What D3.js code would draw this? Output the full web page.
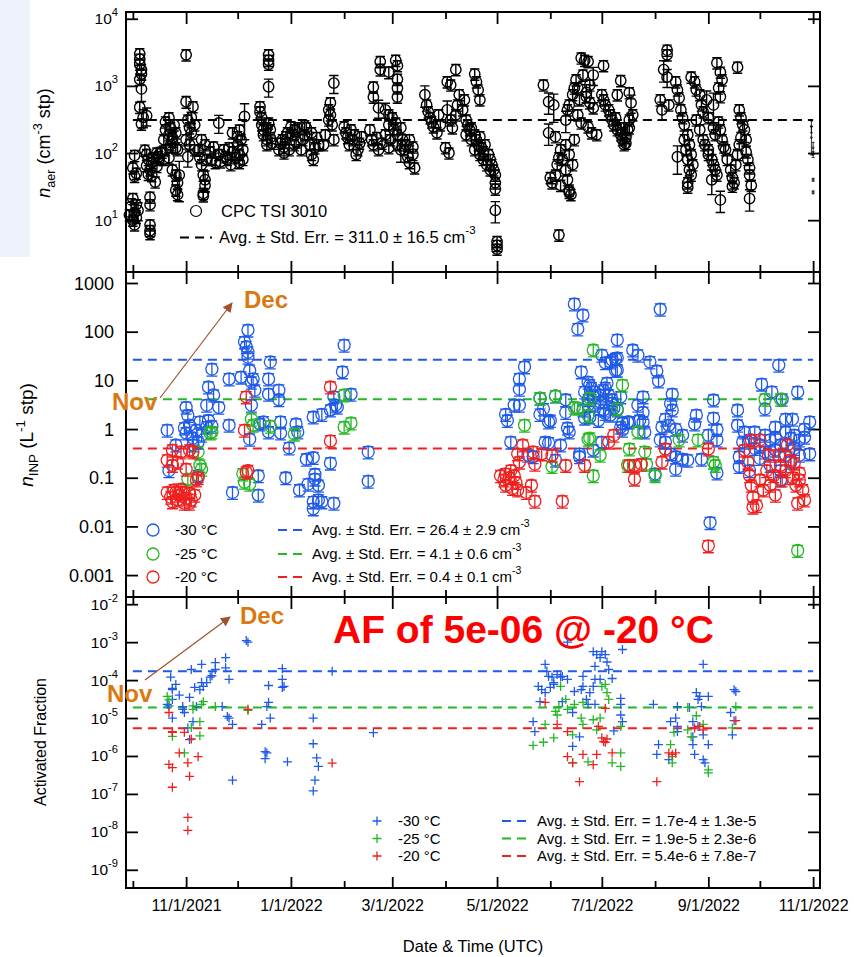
<!DOCTYPE html>
<html>
<head>
<meta charset="utf-8">
<script src="https://cdn.jsdelivr.net/npm/d3@7"></script>
<style>
  body { margin: 0; background: #fff; }
  svg { display: block; }
  text { font-family: "Liberation Sans", Arial, Helvetica, sans-serif; }
</style>
</head>
<body>
<svg id="chart" width="854" height="957"></svg>
<script>
// ---------- data ----------
const majorTickDates = ["2021-11-01", "2022-01-01", "2022-03-01", "2022-05-01", "2022-07-01", "2022-09-01", "2022-11-01"];
const minorTickDates = ["2021-10-01", "2021-12-01", "2022-02-01", "2022-04-01", "2022-06-01", "2022-08-01", "2022-10-01"];
const aerTicks = [10, 100, 1000, 10000];
const inpTicks = [0.001, 0.01, 0.1, 1, 10, 100, 1000];
const inpTickLabels = ["0.001", "0.01", "0.1", "1", "10", "100", "1000"];
const afTicks = [1e-9, 1e-8, 1e-7, 1e-6, 1e-5, 1e-4, 1e-3, 1e-2];
const temperatures = ["-30 °C", "-25 °C", "-20 °C"];

// CPC TSI 3010 aerosol number concentration: [date, cm^-3, relative std. err. (when larger than usual)]
const cpcRelErr = 0.19;
const cpcPoints = [
  ["2021-09-29", 12], ["2021-09-30", 16, 0.3], ["2021-10-01", 10], ["2021-10-01", 21], ["2021-10-02", 13, 0.3],
  ["2021-10-02", 8.5], ["2021-10-03", 17], ["2021-10-03", 11], ["2021-10-04", 14, 0.3], ["2021-10-02", 45],
  ["2021-10-01", 60], ["2021-10-03", 50], ["2021-10-02", 92],
  ["2021-10-05", 3000], ["2021-10-05", 2500], ["2021-10-05", 2100], ["2021-10-06", 1750], ["2021-10-06", 1500],
  ["2021-10-05", 1250], ["2021-10-06", 900, 0.35], ["2021-10-05", 480], ["2021-10-07", 340, 0.3], ["2021-10-06", 270],
  ["2021-10-09", 360, 0.3],
  ["2021-10-11", 22], ["2021-10-11", 17], ["2021-10-11", 8.5], ["2021-10-11", 7], ["2021-10-11", 6.3],
  ["2021-10-08", 110], ["2021-10-09", 95], ["2021-10-10", 80], ["2021-10-12", 72], ["2021-10-09", 65],
  ["2021-10-11", 56], ["2021-10-13", 85], ["2021-10-15", 100], ["2021-10-16", 80], ["2021-10-17", 102],
  ["2021-10-12", 46], ["2021-10-14", 37], ["2021-10-15", 63], ["2021-10-16", 88], ["2021-10-10", 48],
  ["2021-10-18", 103], ["2021-10-19", 158], ["2021-10-20", 222], ["2021-10-20", 290], ["2021-10-22", 335],
  ["2021-10-22", 187], ["2021-10-23", 237], ["2021-10-23", 133], ["2021-10-24", 170], ["2021-10-25", 263],
  ["2021-10-26", 120], ["2021-10-26", 200], ["2021-10-27", 112], ["2021-10-19", 80], ["2021-10-22", 85],
  ["2021-10-20", 112], ["2021-10-24", 150],
  ["2021-10-24", 56], ["2021-10-26", 47], ["2021-10-27", 36], ["2021-10-26", 28], ["2021-10-27", 24],
  ["2021-10-28", 47, 0.6],
  ["2021-11-01", 2900], ["2021-11-01", 580, 0.2], ["2021-11-05", 490], ["2021-11-02", 310], ["2021-11-03", 237],
  ["2021-11-04", 200], ["2021-11-01", 158], ["2021-11-03", 133], ["2021-11-06", 112], ["2021-11-04", 340],
  ["2021-11-06", 263], ["2021-11-02", 88, 0.3],
  ["2021-11-08", 110], ["2021-11-09", 85], ["2021-11-10", 67], ["2021-11-11", 47], ["2021-11-12", 33],
  ["2021-11-11", 25], ["2021-11-13", 80], ["2021-11-12", 133], ["2021-11-10", 158], ["2021-11-11", 23],
  ["2021-11-12", 40, 0.35],
  ["2021-11-15", 104], ["2021-11-16", 80], ["2021-11-17", 123], ["2021-11-18", 72], ["2021-11-20", 95],
  ["2021-11-20", 280, 0.3], ["2021-11-21", 74], ["2021-11-23", 112], ["2021-11-24", 88], ["2021-11-25", 80],
  ["2021-11-26", 120], ["2021-11-27", 67], ["2021-11-28", 200], ["2021-11-28", 104], ["2021-11-30", 85],
  ["2021-12-01", 133], ["2021-12-02", 95], ["2021-12-02", 72], ["2021-12-04", 112], ["2021-12-04", 80],
  ["2021-12-05", 350, 0.55], ["2021-12-03", 158], ["2021-12-01", 175], ["2021-12-02", 220],
  ["2021-12-14", 490], ["2021-12-14", 410], ["2021-12-15", 335], ["2021-12-15", 263], ["2021-12-16", 222],
  ["2021-12-16", 187], ["2021-12-18", 237], ["2021-12-18", 158], ["2021-12-18", 133], ["2021-12-19", 280],
  ["2021-12-20", 222], ["2021-12-20", 170], ["2021-12-21", 140], ["2021-12-19", 2900], ["2021-12-19", 2400],
  ["2021-12-19", 2100], ["2021-12-19", 970, 0.3],
  ["2021-12-25", 112], ["2021-12-26", 140], ["2021-12-27", 158], ["2021-12-28", 123], ["2021-12-29", 175],
  ["2021-12-30", 200], ["2022-01-01", 245], ["2022-01-02", 187], ["2022-01-03", 222], ["2022-01-04", 147],
  ["2022-01-05", 237], ["2022-01-03", 133], ["2021-12-28", 100], ["2021-12-31", 112],
  ["2022-01-07", 112], ["2022-01-08", 158], ["2022-01-09", 187], ["2022-01-10", 237], ["2022-01-12", 133],
  ["2022-01-13", 95], ["2022-01-14", 80], ["2022-01-15", 120], ["2022-01-16", 170], ["2022-01-17", 133],
  ["2022-01-09", 255], ["2022-01-13", 200],
  ["2022-01-20", 133], ["2022-01-21", 187], ["2022-01-23", 310], ["2022-01-23", 440], ["2022-01-24", 560],
  ["2022-01-24", 370], ["2022-01-25", 263], ["2022-01-26", 158], ["2022-01-26", 1100, 0.3],
  ["2022-02-01", 245], ["2022-02-02", 200], ["2022-02-03", 170], ["2022-02-04", 133], ["2022-02-05", 222],
  ["2022-02-06", 158], ["2022-02-07", 187], ["2022-02-09", 112], ["2022-02-10", 140], ["2022-02-11", 175],
  ["2022-02-08", 95],
  ["2022-02-16", 222], ["2022-02-17", 158], ["2022-02-18", 133], ["2022-02-20", 170], ["2022-02-21", 112],
  ["2022-02-23", 140], ["2022-02-25", 187], ["2022-02-27", 120], ["2022-02-28", 158],
  ["2022-02-18", 960], ["2022-02-18", 680],
  ["2022-02-22", 2300], ["2022-02-22", 1750, 0.2], ["2022-02-27", 1600, 0.2], ["2022-03-03", 2400],
  ["2022-03-04", 2000], ["2022-03-04", 1250], ["2022-03-04", 930], ["2022-03-04", 680],
  ["2022-02-21", 470, 0.3], ["2022-02-25", 440, 0.25], ["2022-02-27", 370],
  ["2022-02-27", 263], ["2022-03-01", 335], ["2022-03-02", 222], ["2022-03-03", 280], ["2022-03-04", 187],
  ["2022-03-06", 237], ["2022-03-07", 158], ["2022-03-08", 112], ["2022-03-09", 133], ["2022-03-10", 88],
  ["2022-03-11", 72], ["2022-03-13", 95], ["2022-03-14", 60], ["2022-03-11", 158], ["2022-03-13", 123],
  ["2022-03-06", 112, 0.35], ["2022-03-04", 133],
  ["2022-03-20", 740, 0.35], ["2022-03-21", 520], ["2022-03-22", 410], ["2022-03-23", 335], ["2022-03-24", 290],
  ["2022-03-25", 245], ["2022-03-27", 200], ["2022-03-28", 370], ["2022-03-29", 263],
  ["2022-04-02", 1150], ["2022-04-04", 1030], ["2022-04-07", 1750], ["2022-04-02", 440, 0.35], ["2022-04-04", 310],
  ["2022-04-05", 237], ["2022-04-07", 370], ["2022-04-08", 520], ["2022-04-09", 740], ["2022-04-11", 440],
  ["2022-04-12", 620], ["2022-04-03", 100], ["2022-04-01", 120],
  ["2022-04-13", 310], ["2022-04-14", 263], ["2022-04-15", 222], ["2022-04-16", 237], ["2022-04-18", 187],
  ["2022-04-19", 158], ["2022-04-20", 133], ["2022-04-21", 175], ["2022-04-22", 120], ["2022-04-23", 104],
  ["2022-04-24", 133], ["2022-04-26", 95], ["2022-04-27", 80], ["2022-04-28", 67], ["2022-04-29", 56],
  ["2022-04-30", 47], ["2022-04-30", 36],
  ["2022-04-13", 187], ["2022-04-16", 158], ["2022-04-18", 112], ["2022-04-21", 95], ["2022-04-23", 80],
  ["2022-04-25", 67], ["2022-04-27", 56],
  ["2022-04-18", 1500], ["2022-04-19", 1150], ["2022-04-20", 870], ["2022-04-21", 620],
  ["2022-04-30", 29], ["2022-04-30", 14, 0.35], ["2022-05-01", 4.8], ["2022-05-01", 4.2], ["2022-05-01", 3.7],
  ["2022-05-28", 1030], ["2022-05-31", 580, 0.35], ["2022-06-03", 520, 0.45], ["2022-05-31", 200, 0.35],
  ["2022-06-04", 175], ["2022-06-06", 6],
  ["2022-06-01", 43], ["2022-06-02", 36], ["2022-06-04", 47], ["2022-06-05", 67], ["2022-06-06", 85],
  ["2022-06-07", 112], ["2022-06-08", 80], ["2022-06-10", 56], ["2022-06-11", 40], ["2022-06-12", 28],
  ["2022-06-13", 24], ["2022-06-10", 133], ["2022-06-12", 95], ["2022-06-14", 67], ["2022-06-15", 158],
  ["2022-06-07", 33], ["2022-06-12", 26],
  ["2022-06-10", 310, 0.35], ["2022-06-11", 440], ["2022-06-12", 520], ["2022-06-14", 740], ["2022-06-15", 930],
  ["2022-06-16", 1230], ["2022-06-17", 930], ["2022-06-18", 620], ["2022-06-19", 2600], ["2022-06-21", 2400],
  ["2022-06-23", 2300], ["2022-06-20", 1450], ["2022-06-22", 800, 0.3], ["2022-06-17", 370], ["2022-06-19", 280],
  ["2022-06-24", 1030], ["2022-06-26", 1450, 0.3], ["2022-07-02", 2000], ["2022-06-22", 690], ["2022-06-24", 560],
  ["2022-06-26", 470], ["2022-06-23", 245], ["2022-06-25", 200], ["2022-06-28", 187],
  ["2022-07-01", 740], ["2022-07-02", 620], ["2022-07-03", 520], ["2022-07-05", 440], ["2022-07-06", 370],
  ["2022-07-07", 310], ["2022-07-08", 263], ["2022-07-09", 335], ["2022-07-10", 222], ["2022-07-12", 187],
  ["2022-07-13", 158], ["2022-07-14", 133], ["2022-07-15", 170], ["2022-07-16", 222], ["2022-07-17", 310],
  ["2022-07-19", 370], ["2022-07-10", 735], ["2022-07-12", 1200], ["2022-07-17", 790], ["2022-07-18", 560, 0.3],
  ["2022-07-12", 237], ["2022-07-13", 200], ["2022-07-15", 140], ["2022-07-17", 237],
  ["2022-08-08", 3400], ["2022-08-08", 2900], ["2022-08-06", 1750, 0.35], ["2022-08-08", 1350, 0.3],
  ["2022-08-04", 620], ["2022-08-05", 440, 0.3], ["2022-08-09", 520],
  ["2022-08-13", 1150], ["2022-08-14", 870], ["2022-08-15", 660], ["2022-08-16", 440], ["2022-08-17", 335],
  ["2022-08-18", 263], ["2022-08-20", 187], ["2022-08-21", 133], ["2022-08-22", 95], ["2022-08-23", 67],
  ["2022-08-18", 158], ["2022-08-19", 112], ["2022-08-20", 80], ["2022-08-21", 56], ["2022-08-22", 47],
  ["2022-08-14", 88, 0.45], ["2022-08-20", 36], ["2022-08-20", 31],
  ["2022-08-22", 1350], ["2022-08-24", 1150], ["2022-08-25", 870], ["2022-08-27", 740], ["2022-08-28", 520],
  ["2022-08-29", 410], ["2022-08-31", 620, 0.35], ["2022-09-01", 335], ["2022-08-25", 310], ["2022-08-27", 222],
  ["2022-08-29", 158], ["2022-08-30", 133], ["2022-09-01", 112], ["2022-09-01", 95], ["2022-09-03", 80],
  ["2022-09-04", 67], ["2022-09-05", 56], ["2022-09-06", 47], ["2022-09-03", 40, 0.4], ["2022-09-04", 237],
  ["2022-09-05", 187], ["2022-09-07", 290], ["2022-09-08", 222], ["2022-09-09", 158], ["2022-09-10", 123],
  ["2022-09-06", 2200], ["2022-09-08", 1600], ["2022-09-09", 1230], ["2022-09-07", 930], ["2022-09-08", 690],
  ["2022-09-04", 520, 0.5], ["2022-09-08", 20, 0.35],
  ["2022-09-11", 112], ["2022-09-12", 80], ["2022-09-14", 56], ["2022-09-15", 43], ["2022-09-16", 36],
  ["2022-09-17", 67], ["2022-09-18", 95], ["2022-09-19", 133], ["2022-09-20", 170], ["2022-09-15", 32],
  ["2022-09-18", 1900],
  ["2022-09-19", 440], ["2022-09-20", 335], ["2022-09-21", 263], ["2022-09-22", 222, 0.35], ["2022-09-23", 158],
  ["2022-09-23", 104], ["2022-09-24", 80], ["2022-09-25", 60], ["2022-09-25", 47], ["2022-09-26", 33],
  ["2022-09-25", 21, 0.35]
];
// last few CPC samples at the end of the record: [date, cm^-3, relative std. err.]
const cpcTail = [["2022-10-31", 250, 0.2], ["2022-10-31", 170, 0.45], ["2022-11-01", 120, 0.2], ["2022-11-01", 95, 0.1], ["2022-11-01", 40, 0.05], ["2022-11-01", 26, 0.05]];
const aerAvg = { value: 311.0, err: 16.5 };

// INP number concentration (L^-1 stp): [date, value]
const inpRelErr = 0.28;
const inp30 = [
  ["2021-10-21",0.95],["2021-10-22",0.14],["2021-10-26",0.47],["2021-11-01",2.8],["2021-11-02",1.9],["2021-10-31",1.05],
  ["2021-11-01",0.83],["2021-11-03",1.2],["2021-11-05",0.65],["2021-11-07",0.95],["2021-11-09",1.4],["2021-11-10",0.75],
  ["2021-11-08",0.54],["2021-11-05",0.47],["2021-11-08",0.11],["2021-11-13",3.1],["2021-11-14",7.3],["2021-11-16",17],
  ["2021-11-17",5],["2021-11-20",2.8],["2021-11-14",1.5],["2021-11-16",1.15],["2021-11-13",1.1],["2021-11-26",1.2],
  ["2021-11-26",10.7],["2021-11-28",0.05],["2021-12-03",11.7],["2021-12-07",108],["2021-12-05",62],["2021-12-06",49],
  ["2021-12-07",38],["2021-12-07",30],["2021-12-08",16],["2021-12-10",10.7],["2021-12-09",9.2],["2021-12-11",6.3],
  ["2021-12-09",3.1],["2021-12-08",0.62],["2021-12-13",0.11],["2021-12-13",0.044],["2021-12-14",1.27],["2021-12-16",1.4],
  ["2021-12-20",24],["2021-12-19",10.7],["2021-12-19",5.2],["2021-12-25",6.3],["2021-12-25",4],["2021-12-19",0.87],
  ["2021-12-26",1.4],["2021-12-26",0.83],["2021-12-31",0.41],["2021-12-29",0.1],["2022-01-04",1.27],["2022-01-05",0.87],
  ["2022-01-06",0.056],["2022-01-10",0.24],["2022-01-14",0.26],["2022-01-11",0.074],["2022-01-14",1.77],["2022-01-19",2.0],
  ["2022-01-24",2.46],["2022-01-28",2.8],["2022-01-15",0.118],["2022-01-15",0.094],["2022-01-17",0.07],["2022-01-14",0.032],
  ["2022-01-17",0.035],["2022-01-14",0.023],["2022-01-19",0.032],["2022-01-24",0.2],["2022-01-26",0.03],["2022-02-01",53],
  ["2022-01-31",15],["2022-01-26",4.6],["2022-01-27",3.1],["2022-02-05",5.2],["2022-02-15",0.34],["2022-02-15",0.085],
  ["2022-05-17",19],["2022-05-14",10.7],["2022-05-14",6.6],["2022-05-11",3.1],["2022-05-14",3.1],["2022-05-06",2.0],
  ["2022-05-07",1.5],["2022-05-09",0.54],["2022-05-19",0.29],["2022-05-26",4.3],["2022-05-28",2.6],["2022-05-26",2.0],
  ["2022-06-01",1.5],["2022-06-04",4.8],["2022-06-10",4],["2022-06-10",2.2],["2022-06-11",1.05],["2022-06-12",0.87],
  ["2022-05-29",0.54],["2022-05-31",0.52],["2022-06-07",0.47],["2022-06-18",0.31],["2022-06-04",0.23],["2022-06-19",15],
  ["2022-06-21",5.8],["2022-06-23",3.1],["2022-06-15",372],["2022-06-20",220],["2022-06-17",114],["2022-05-22",0.27],
  ["2022-05-31",1.4],["2022-06-18",0.27],["2022-06-26",0.37],["2022-06-24",8],["2022-07-01",33],["2022-07-07",26],
  ["2022-07-10",68],["2022-07-03",23],["2022-07-10",16.3],["2022-07-10",29],["2022-07-04",8.8],["2022-07-03",7],
  ["2022-07-12",4.6],["2022-06-30",3.6],["2022-06-23",4],["2022-06-20",2.46],["2022-06-24",1.77],["2022-06-26",4.6],
  ["2022-07-07",3.4],["2022-07-12",1.1],["2022-07-13",1.33],["2022-07-17",1.4],["2022-07-10",2.46],["2022-08-04",290],
  ["2022-07-19",42],["2022-07-22",33],["2022-07-06",24],["2022-07-09",28],["2022-07-09",16],["2022-07-29",24],
  ["2022-08-02",15.6],["2022-08-03",9.7],["2022-06-23",9.2],["2022-06-25",7],["2022-06-27",5.8],["2022-06-30",5],
  ["2022-07-02",6.3],["2022-07-05",5],["2022-07-07",4],["2022-06-27",3.1],["2022-07-02",2.46],["2022-07-06",1.94],
  ["2022-06-21",1.68],["2022-06-29",1.5],["2022-07-03",2.1],["2022-07-08",2.7],["2022-07-16",1.4],["2022-07-13",0.95],
  ["2022-07-25",4.6],["2022-07-22",3.1],["2022-07-25",2.2],["2022-07-25",1.4],["2022-07-26",0.87],["2022-07-23",1.5],
  ["2022-08-11",5.2],["2022-08-10",3.3],["2022-08-11",2.46],["2022-08-07",1.6],["2022-08-09",1.2],["2022-08-05",1.1],
  ["2022-08-13",1.0],["2022-08-17",0.75],["2022-08-04",0.6],["2022-08-07",0.54],["2022-08-10",0.31],["2022-08-13",0.15],
  ["2022-08-17",0.24],["2022-08-20",0.23],["2022-08-13",0.27],["2022-08-01",0.12],["2022-07-01",0.54],["2022-08-25",1.94],
  ["2022-08-24",1.27],["2022-09-04",3.95],["2022-09-04",1.68],["2022-09-01",0.75],["2022-09-06",0.98],["2022-09-06",0.6],
  ["2022-08-28",0.24],["2022-09-06",0.125],["2022-09-02",0.012],["2022-09-18",2.46],["2022-09-18",1.2],["2022-09-19",0.27],
  ["2022-09-19",0.17],["2022-09-22",0.87],["2022-09-21",0.54],["2022-10-02",8.4],["2022-10-08",5.8],["2022-10-04",2.6],
  ["2022-10-12",20.6],["2022-10-14",4.1],["2022-10-23",5.8],["2022-10-16",1.6],["2022-10-20",1.6],["2022-10-10",1.1],
  ["2022-10-27",1.0],["2022-10-30",1.4],["2022-10-30",0.31],["2022-09-25",0.6],["2022-09-28",0.4],["2022-10-01",0.47],
  ["2022-10-04",0.34],["2022-10-07",0.6],["2022-10-10",0.37],["2022-10-13",0.47],["2022-10-16",0.29],["2022-10-19",0.65],
  ["2022-10-21",0.4],["2022-10-24",0.6],["2022-10-01",0.25],["2022-10-07",0.18],["2022-10-13",0.14],["2022-10-19",0.21],
  ["2022-10-24",0.29],["2022-09-28",0.87],["2022-10-04",0.75],["2022-10-10",0.68],["2022-10-16",0.87],["2022-10-21",0.75],
  ["2022-10-27",0.68],["2022-09-25",0.14],["2022-10-13",0.09]
];
const inp25 = [
  ["2021-11-02",0.094],["2021-11-08",0.34],["2021-11-09",0.18],["2021-11-10",0.15],["2021-11-16",0.87],["2021-11-15",0.83],
  ["2021-12-04",0.12],["2021-12-05",0.081],["2021-12-08",0.074],["2021-12-09",1.6],["2021-12-10",1.2],["2021-12-20",1.15],
  ["2022-01-03",0.79],["2022-02-01",5],["2022-02-01",1.1],["2022-02-05",1.33],
  ["2022-05-17",1.2],["2022-06-02",0.17],["2022-06-15",2.8],["2022-06-23",0.62],["2022-06-26",42],["2022-07-13",8],
  ["2022-06-17",2.7],["2022-06-24",0.65],["2022-06-30",0.29],["2022-06-26",0.11],["2022-05-26",4.3],["2022-06-04",4.8],
  ["2022-07-17",0.39],["2022-07-26",0.34],["2022-07-16",0.18],["2022-07-27",0.19],["2022-08-01",0.11],["2022-07-10",2.6],
  ["2022-07-22",0.87],["2022-08-15",0.6],["2022-08-26",0.6],["2022-09-04",0.21],["2022-09-05",0.18],["2022-10-23",0.0032],
  ["2022-10-04",4.1],["2022-10-13",4.1],["2022-06-23",1.9],["2022-06-24",4.3]
];
const inp20 = [
  ["2021-10-21",0.05],["2021-10-23",0.04],["2021-10-25",0.056],["2021-10-27",0.035],["2021-10-28",0.044],["2021-10-30",0.05],
  ["2021-11-01",0.038],["2021-11-03",0.048],["2021-11-04",0.035],["2021-11-06",0.044],["2021-10-24",0.032],["2021-11-03",0.03],
  ["2021-10-29",0.058],["2021-10-26",0.05],["2021-10-31",0.03],
  ["2021-10-21",0.23],["2021-10-24",0.18],["2021-10-27",0.21],["2021-10-24",0.37],["2021-10-29",0.34],["2021-11-01",0.15],
  ["2021-11-03",0.37],["2021-11-05",0.34],["2021-11-07",0.09],["2021-11-08",0.1],
  ["2021-12-06",4.6],["2021-12-05",0.95],["2021-12-06",0.13],["2021-12-07",0.14],["2022-01-24",7.3],["2022-01-24",0.57],
  ["2022-05-03",0.11],["2022-05-05",0.09],["2022-05-06",0.07],["2022-05-08",0.1],["2022-05-10",0.06],["2022-05-12",0.08],
  ["2022-05-13",0.056],["2022-05-06",0.12],["2022-05-09",0.14],["2022-05-11",0.11],["2022-05-21",0.07],["2022-05-23",0.033],
  ["2022-05-18",0.05],["2022-06-08",0.033],["2022-05-16",0.47],["2022-05-13",0.31],["2022-05-14",0.21],["2022-05-23",0.19],
  ["2022-05-22",0.34],["2022-05-27",0.31],["2022-06-02",0.29],["2022-06-10",0.18],["2022-06-21",0.18],
  ["2022-07-08",0.75],["2022-07-05",0.54],["2022-07-20",0.094],["2022-07-20",0.18],["2022-07-17",0.18],["2022-07-24",0.19],
  ["2022-08-05",0.21],["2022-08-07",0.39],["2022-09-01",0.39],["2022-09-01",0.004],
  ["2022-09-22",0.37],["2022-09-24",0.21],["2022-09-25",0.11],["2022-09-26",0.07],["2022-09-27",0.04],["2022-09-29",0.027],
  ["2022-10-01",0.09],["2022-10-03",0.056],["2022-10-05",0.14],["2022-10-07",0.07],["2022-10-09",0.11],["2022-10-10",0.044],
  ["2022-10-13",0.18],["2022-10-14",0.09],["2022-10-16",0.14],["2022-10-19",0.23],["2022-10-20",0.1],["2022-10-22",0.07],
  ["2022-10-24",0.125],["2022-10-26",0.056],["2022-10-27",0.035],["2022-10-24",0.09],["2022-10-21",0.2],["2022-10-17",0.47],
  ["2022-10-12",0.29],["2022-10-06",0.29],["2022-10-01",0.6],["2022-09-26",0.6],["2022-09-27",0.025],["2022-10-23",0.03]
];
const inpAvg = [{ value: 26.4, err: 2.9 }, { value: 4.1, err: 0.6 }, { value: 0.4, err: 0.1 }];

// activated fraction: [date, value]
const af30 = [
  ["2021-10-23",1.2e-4],["2021-10-24",5.6e-5],["2021-10-26",7.7e-5],["2021-10-24",6e-5],["2021-10-21",2.3e-5],["2021-10-24",3.1e-5],
  ["2021-10-22",2.1e-5],["2021-10-28",4e-5],["2021-10-24",1e-5],["2021-10-30",2e-5],["2021-10-30",1.7e-5],["2021-11-02",5.5e-6],
  ["2021-10-31",1.4e-5],["2021-11-03",3.5e-5],["2021-11-04",1.9e-4],["2021-11-03",2.7e-6],["2021-11-05",8e-6],["2021-11-07",2e-5],
  ["2021-11-06",6.4e-5],["2021-11-09",5.6e-5],["2021-11-10",8.6e-5],["2021-11-10",2.6e-4],["2021-11-11",6.8e-5],["2021-11-13",8.6e-5],
  ["2021-11-15",1.2e-4],["2021-11-16",1.3e-4],["2021-11-18",2.9e-4],["2021-11-18",1.9e-4],["2021-11-22",2e-5],["2021-11-24",3.9e-4],
  ["2021-11-24",2.1e-4],["2021-11-26",1.05e-4],["2021-11-25",1.1e-5],["2021-11-26",1e-5],["2021-11-28",6.8e-6],["2021-11-28",2.3e-7],
  ["2021-12-06",1.1e-3],["2021-12-07",1e-3],["2021-12-15",6.8e-6],["2021-12-17",1.3e-6],["2021-12-18",1.2e-6],["2021-12-17",8.5e-7],
  ["2021-12-18",2e-5],["2021-12-19",2.6e-5],["2021-12-20",1e-5],["2021-12-19",7.2e-5],["2021-12-27",2e-4],["2021-12-27",1.05e-4],
  ["2021-12-27",6.4e-5],["2021-12-28",6.8e-5],["2021-12-30",7e-7],["2022-01-14",1e-5],["2022-01-14",2.1e-6],["2022-01-16",8.9e-7],
  ["2022-01-17",5.3e-7],["2022-01-15",2.3e-7],["2022-01-14",1.2e-7],["2022-01-25",1.7e-4],["2022-02-18",4.1e-6],
  ["2022-06-11",1e-3],["2022-05-29",2.6e-4],["2022-05-30",1.7e-4],["2022-05-31",1.25e-4],["2022-06-02",1.2e-4],["2022-06-03",7.7e-5],
  ["2022-06-05",1.4e-4],["2022-06-07",1.2e-4],["2022-06-08",1.25e-4],["2022-06-11",1.05e-4],["2022-05-25",6.8e-5],["2022-05-27",5.6e-5],
  ["2022-05-26",2.7e-5],["2022-05-29",4.7e-5],["2022-06-01",6.4e-5],["2022-06-03",8.6e-5],["2022-05-22",8e-6],["2022-05-23",4.4e-6],
  ["2022-06-08",2.7e-5],["2022-06-14",1.4e-5],["2022-06-14",1.8e-6],["2022-06-15",5e-5],["2022-06-20",1.25e-4],["2022-06-20",6.8e-5],
  ["2022-06-19",5.6e-5],["2022-06-18",3.2e-6],["2022-06-22",3.1e-5],["2022-06-23",2.3e-5],["2022-06-26",5.6e-4],["2022-06-27",2.3e-4],
  ["2022-06-28",4.7e-4],["2022-06-30",3.9e-4],["2022-07-01",5.6e-4],["2022-07-03",4.7e-4],["2022-07-04",3e-4],["2022-07-05",1.9e-4],
  ["2022-07-07",1.1e-4],["2022-07-13",6.4e-4],["2022-06-27",1.05e-4],["2022-06-30",1.05e-4],["2022-06-26",6.8e-5],["2022-06-24",4.7e-5],
  ["2022-06-27",2.3e-5],["2022-07-08",4.6e-6],["2022-07-12",3.3e-5],["2022-07-12",2.3e-5],["2022-07-12",1.2e-5],["2022-07-13",8e-6],
  ["2022-07-31",2.3e-5],["2022-08-03",2e-6],["2022-08-02",1.1e-6],["2022-08-09",8e-7],["2022-08-10",8e-6],["2022-08-13",1e-5],
  ["2022-08-14",6e-6],["2022-08-14",2e-5],["2022-08-14",4.4e-6],["2022-08-21",1.9e-5],["2022-08-23",8e-6],["2022-08-23",2e-6],
  ["2022-08-24",1.1e-6],["2022-08-25",4.7e-5],["2022-08-26",3.1e-5],["2022-08-27",3.7e-5],["2022-08-29",2.6e-4],["2022-08-28",2e-5],
  ["2022-08-26",6e-6],["2022-08-29",3.6e-6],["2022-08-29",8e-7],["2022-08-30",6.6e-7],["2022-09-01",2e-6],["2022-08-23",3.2e-6],
  ["2022-09-01",3.7e-5],["2022-09-14",1.4e-5],["2022-09-15",3.6e-6],["2022-09-16",5.6e-5],["2022-09-17",5e-5],["2022-09-16",8.5e-6]
];
const af25 = [
  ["2021-10-21",3.7e-5],["2021-10-22",3e-5],["2021-10-24",3.3e-6],["2021-10-31",1.2e-6],["2021-11-05",1.7e-5],["2021-11-05",2.1e-5],
  ["2021-11-09",8e-6],["2021-11-09",3.4e-6],["2021-11-10",2.3e-5],["2021-11-11",2.7e-5],["2021-11-04",5.6e-6],["2021-11-18",2e-5],
  ["2021-12-07",1.6e-5],
  ["2022-05-22",1.9e-6],["2022-05-28",2.3e-6],["2022-05-29",6.8e-6],["2022-06-03",3e-6],["2022-06-04",1.5e-5],["2022-06-06",2e-5],
  ["2022-06-07",6.8e-5],["2022-06-05",1.2e-5],["2022-06-10",3.1e-5],["2022-06-11",1.7e-5],["2022-06-14",6.6e-7],["2022-06-14",3.6e-6],
  ["2022-06-15",2.3e-5],["2022-06-19",1e-5],["2022-06-20",6.8e-6],["2022-06-20",2.6e-5],["2022-06-23",7e-7],["2022-06-26",9e-6],
  ["2022-06-28",4.9e-6],["2022-06-30",1e-5],["2022-07-01",6.8e-5],["2022-07-03",7.7e-5],["2022-07-04",4.7e-5],["2022-07-05",3.1e-5],
  ["2022-07-07",6.6e-7],["2022-07-12",1.2e-6],["2022-07-12",5.3e-7],["2022-07-12",6e-6],
  ["2022-08-10",2e-6],["2022-08-11",9.6e-7],["2022-08-11",6.6e-7],["2022-08-12",4.2e-6],["2022-08-20",1.9e-5],["2022-08-20",4.9e-6],
  ["2022-08-22",3.2e-6],["2022-08-25",1.15e-5],["2022-08-29",6.8e-6],["2022-09-01",4.3e-7],["2022-09-01",3.6e-7],["2022-09-17",2e-5],
  ["2022-09-15",5.5e-6]
];
const af20 = [
  ["2021-10-22",1.4e-5],["2021-10-24",4.2e-6],["2021-10-24",4.4e-6],["2021-10-22",6e-7],["2021-10-24",4.9e-7],["2021-10-24",1.5e-7],
  ["2021-10-28",1.2e-6],["2021-10-31",4.2e-6],["2021-11-02",6.6e-7],["2021-11-03",2.9e-7],["2021-11-04",2.8e-6],["2021-11-08",9.6e-7],
  ["2021-11-02",2.4e-8],["2021-11-02",1.1e-8],["2021-12-07",1.7e-5],["2022-01-25",6.5e-7],
  ["2022-05-29",2.6e-5],["2022-06-05",6.8e-6],["2022-06-11",4.4e-6],["2022-06-11",9.6e-7],["2022-06-14",6.6e-7],["2022-06-18",2.1e-7],
  ["2022-06-20",1.1e-6],["2022-06-26",5.9e-7],["2022-06-28",1.1e-6],["2022-06-29",6e-6],["2022-07-01",3e-6],["2022-07-02",2.4e-6],
  ["2022-07-03",2.3e-6],["2022-07-04",2.8e-6],["2022-07-03",1.8e-5],["2022-07-07",1.2e-6],["2022-08-02",2.1e-7],["2022-08-09",1.2e-6],
  ["2022-08-11",1.1e-6],["2022-08-13",1.2e-6],["2022-08-24",5.5e-6],["2022-08-27",6e-6],["2022-08-29",4.9e-6],["2022-09-17",8.5e-6]
];
const afAvg = [{ value: 1.7e-4, err: "1.3e-5", label: "1.7e-4" }, { value: 1.9e-5, err: "2.3e-6", label: "1.9e-5" }, { value: 5.4e-6, err: "7.8e-7", label: "5.4e-6" }];
const avgSpan = ["2021-10-01", "2022-11-01"];

// ---------- layout / style ----------
const colors = ["#1f5ae8", "#25b825", "#ee2020"];
const annotColor = "#d9790f";
const arrowColor = "#a0522d";
const FONT = '"Liberation Sans", Arial, Helvetica, sans-serif';

const parse = d3.utcParse("%Y-%m-%d");
const svg = d3.select("#chart");
const L = 126, R = 820;

const x = d3.scaleUtc().domain([parse("2021-09-27"), parse("2022-11-05")]).range([L, R]);
const yAer = d3.scaleLog().domain([1.69, 12600]).range([272, 12]);
const yInp = d3.scaleLog().domain([Math.pow(10, -3.45), Math.pow(10, 3.226)]).range([597, 272]);
const yAf = d3.scaleLog().domain([Math.pow(10, -9.48), Math.pow(10, -1.81)]).range([888, 597]);

// pale strip along the left edge
svg.append("rect").attr("x", 0).attr("y", 0).attr("width", 30).attr("height", 257).attr("fill", "#eef2fb");

const panels = [
  { y: yAer, top: 12, bottom: 272, ticks: aerTicks },
  { y: yInp, top: 272, bottom: 597, ticks: inpTicks },
  { y: yAf, top: 597, bottom: 888, ticks: afTicks }
];

function styleAxis(g) {
  g.selectAll("line").attr("stroke", "#000").attr("stroke-width", 1.8);
  g.selectAll("path").remove();
}

panels.forEach((p, i) => {
  const g = svg.append("g");
  const major = majorTickDates.map(parse), minor = minorTickDates.map(parse);
  // top edge ticks
  g.append("g").attr("transform", `translate(0,${p.top})`)
    .call(d3.axisTop(x).tickValues(major).tickSize(-12).tickSizeOuter(0).tickFormat("")).call(styleAxis);
  g.append("g").attr("transform", `translate(0,${p.top})`)
    .call(d3.axisTop(x).tickValues(minor).tickSize(-7).tickSizeOuter(0).tickFormat("")).call(styleAxis);
  // bottom edge ticks
  const bottomAxis = d3.axisBottom(x).tickValues(major).tickSize(-11).tickSizeOuter(0).tickPadding(12)
    .tickFormat(i === 2 ? d3.utcFormat("%-m/%-d/%Y") : "");
  const gb = g.append("g").attr("transform", `translate(0,${p.bottom})`).call(bottomAxis).call(styleAxis);
  gb.selectAll("text").attr("font-family", FONT).attr("font-size", 16).attr("fill", "#000");
  g.append("g").attr("transform", `translate(0,${p.bottom})`)
    .call(d3.axisBottom(x).tickValues(minor).tickSize(-7).tickSizeOuter(0).tickFormat("")).call(styleAxis);
  // left and right edge ticks
  g.append("g").attr("transform", `translate(${L},0)`)
    .call(d3.axisLeft(p.y).tickValues(p.ticks).tickSize(-12).tickSizeOuter(0).tickFormat("")).call(styleAxis);
  g.append("g").attr("transform", `translate(${R},0)`)
    .call(d3.axisRight(p.y).tickValues(p.ticks).tickSize(-12).tickSizeOuter(0).tickFormat("")).call(styleAxis);
  // frame
  g.append("rect").attr("x", L).attr("y", p.top).attr("width", R - L).attr("height", p.bottom - p.top)
    .attr("fill", "none").attr("stroke", "#000").attr("stroke-width", 2);
});

// y tick labels
function powerLabel(yPos, exp, size) {
  const t = svg.append("text").attr("x", 118).attr("y", yPos + 5.5).attr("text-anchor", "end")
    .attr("font-size", size).attr("fill", "#000");
  t.append("tspan").text("10");
  t.append("tspan").attr("dy", -8).attr("font-size", size * 0.72).text(exp);
}
aerTicks.forEach(v => powerLabel(yAer(v), String(Math.round(Math.log10(v))), 15.5));
afTicks.forEach(v => powerLabel(yAf(v), String(Math.round(Math.log10(v))), 15.5));
inpTicks.forEach((v, i) => {
  svg.append("text").attr("x", 114).attr("y", yInp(v) + 6.5).attr("text-anchor", "end")
    .attr("font-size", 18).attr("fill", "#000").text(inpTickLabels[i]);
});

// axis titles
function richText(parent, parts, size) {
  const t = parent.append("text").attr("font-size", size).attr("fill", "#000").attr("text-anchor", "middle");
  let shift = 0;
  parts.forEach(p => {
    const s = t.append("tspan").text(p.t);
    const target = p.sub ? 5 : p.sup ? -8 : 0;
    if (target !== shift) { s.attr("dy", target - shift); shift = target; }
    if (p.sub || p.sup) s.attr("font-size", size * 0.7);
    if (p.it) s.attr("font-style", "italic");
  });
  return t;
}
richText(svg.append("g").attr("transform", "translate(50,143) rotate(-90)"),
  [{ t: "n", it: true }, { t: "aer", sub: true }, { t: " (cm" }, { t: "-3", sup: true }, { t: " stp)" }], 18);
richText(svg.append("g").attr("transform", "translate(33,435) rotate(-90)"),
  [{ t: "n", it: true }, { t: "INP", sub: true }, { t: " (L" }, { t: "-1", sup: true }, { t: " stp)" }], 19);
richText(svg.append("g").attr("transform", "translate(46,742) rotate(-90)"), [{ t: "Activated Fraction" }], 16);
richText(svg.append("g").attr("transform", "translate(473,952)"), [{ t: "Date & Time (UTC)" }], 16.5);

// headline on the activated fraction panel
svg.append("text").attr("x", 333).attr("y", 643).attr("font-size", 39).attr("font-weight", "bold")
  .attr("fill", "#ff0000").text("AF of 5e-06 @ -20 °C");

// ---------- average lines ----------
const span = avgSpan.map(parse);
function avgLine(y, value, color) {
  svg.append("line").attr("x1", x(span[0])).attr("x2", x(span[1])).attr("y1", y(value)).attr("y2", y(value))
    .attr("stroke", color).attr("stroke-width", 2).attr("stroke-dasharray", "9,6");
}
avgLine(yAer, aerAvg.value, "#000");
inpAvg.forEach((a, i) => avgLine(yInp, a.value, colors[i]));
afAvg.forEach((a, i) => avgLine(yAf, a.value, colors[i]));

// ---------- markers ----------
function errorPath(y, v, e, cap) {
  const yc = y(v), up = y(v * (1 + e)) - yc, dn = y(v * (1 - e)) - yc;
  return `M0,${up}V${dn}M${-cap},${up}H${cap}M${-cap},${dn}H${cap}`;
}
function circleSeries(pts, y, color, r, relErr, sw) {
  const g = svg.append("g");
  const m = g.selectAll("g").data(pts).join("g")
    .attr("transform", d => `translate(${x(parse(d[0]))},${y(d[1])})`);
  m.append("path").attr("d", d => errorPath(y, d[1], d[2] ?? relErr, r - 0.5))
    .attr("stroke", color).attr("stroke-width", sw).attr("fill", "none");
  m.append("circle").attr("r", r).attr("fill", "none").attr("stroke", color).attr("stroke-width", sw);
}
function plusSeries(pts, y, color) {
  svg.append("g").selectAll("path").data(pts).join("path")
    .attr("transform", d => `translate(${x(parse(d[0]))},${y(d[1])})`)
    .attr("d", "M-4.5,0H4.5M0,-4.5V4.5").attr("stroke", color).attr("stroke-width", 1.3).attr("fill", "none");
}

circleSeries(cpcPoints, yAer, "#000", 5.2, cpcRelErr, 1.4);
svg.append("g").selectAll("g").data(cpcTail).join("g")
  .attr("transform", d => `translate(${x(parse(d[0]))},${yAer(d[1])})`)
  .call(m => {
    m.append("path").attr("d", d => errorPath(yAer, d[1], d[2], 1.5)).attr("stroke", "#000").attr("stroke-width", 0.8).attr("fill", "none");
    m.append("circle").attr("r", 1).attr("fill", "none").attr("stroke", "#000").attr("stroke-width", 0.7);
  });

[inp30, inp25, inp20].forEach((s, i) => circleSeries(s, yInp, colors[i], 6, inpRelErr, 1.3));
[af30, af25, af20].forEach((s, i) => plusSeries(s, yAf, colors[i]));

// ---------- legends ----------
function legendText(xp, yp, main, sup, size) {
  const t = svg.append("text").attr("x", xp).attr("y", yp + size * 0.36).attr("font-size", size).attr("fill", "#000");
  t.append("tspan").text(main);
  if (sup) t.append("tspan").attr("dy", -size * 0.55).attr("font-size", size * 0.7).text(sup);
}
function legendDash(x1, x2, yp, color) {
  svg.append("line").attr("x1", x1).attr("x2", x2).attr("y1", yp).attr("y2", yp)
    .attr("stroke", color).attr("stroke-width", 2).attr("stroke-dasharray", "9,6");
}
// aerosol panel
svg.append("circle").attr("cx", 196).attr("cy", 211).attr("r", 5.5).attr("fill", "none").attr("stroke", "#000").attr("stroke-width", 1.2);
legendText(221, 211, "CPC TSI 3010", null, 16.5);
legendDash(180, 212, 237.5, "#000");
legendText(219, 237.5, `Avg. ± Std. Err. = ${aerAvg.value.toFixed(1)} ± ${aerAvg.err.toFixed(1)} cm`, "-3", 16.5);
// INP panel
[530, 554, 577].forEach((yp, i) => {
  svg.append("circle").attr("cx", 153).attr("cy", yp).attr("r", 6).attr("fill", "none").attr("stroke", colors[i]).attr("stroke-width", 1.3);
  legendText(175, yp, temperatures[i], null, 15);
  legendDash(278, 302, yp, colors[i]);
  legendText(312, yp, `Avg. ± Std. Err. = ${inpAvg[i].value.toFixed(1)} ± ${inpAvg[i].err.toFixed(1)} cm`, "-3", 15);
});
// activated fraction panel
[821, 838.5, 856].forEach((yp, i) => {
  svg.append("path").attr("transform", `translate(377,${yp})`).attr("d", "M-4.5,0H4.5M0,-4.5V4.5")
    .attr("stroke", colors[i]).attr("stroke-width", 1.3);
  legendText(398, yp, temperatures[i], null, 15);
  legendDash(502, 526, yp, colors[i]);
  legendText(537, yp, `Avg. ± Std. Err. = ${afAvg[i].label} ± ${afAvg[i].err}`, null, 15);
});

// ---------- month annotations ----------
svg.append("defs").append("marker").attr("id", "head").attr("viewBox", "0 0 10 10")
  .attr("refX", 9).attr("refY", 5).attr("markerWidth", 10).attr("markerHeight", 10)
  .attr("markerUnits", "userSpaceOnUse").attr("orient", "auto")
  .append("path").attr("d", "M0,0L10,5L0,10Z").attr("fill", arrowColor);
function annotation(nov, dec, from, to) {
  svg.append("line").attr("x1", from[0]).attr("y1", from[1]).attr("x2", to[0]).attr("y2", to[1])
    .attr("stroke", arrowColor).attr("stroke-width", 1.2).attr("marker-end", "url(#head)");
  svg.append("text").attr("x", nov[0]).attr("y", nov[1]).attr("font-size", 24).attr("font-weight", "bold")
    .attr("fill", annotColor).text("Nov");
  svg.append("text").attr("x", dec[0]).attr("y", dec[1]).attr("font-size", 24).attr("font-weight", "bold")
    .attr("fill", annotColor).text("Dec");
}
annotation([112, 410], [244, 308], [160, 398], [232, 303]);
annotation([107, 702], [240, 624], [145, 680], [230, 617]);
</script>
</body>
</html>
